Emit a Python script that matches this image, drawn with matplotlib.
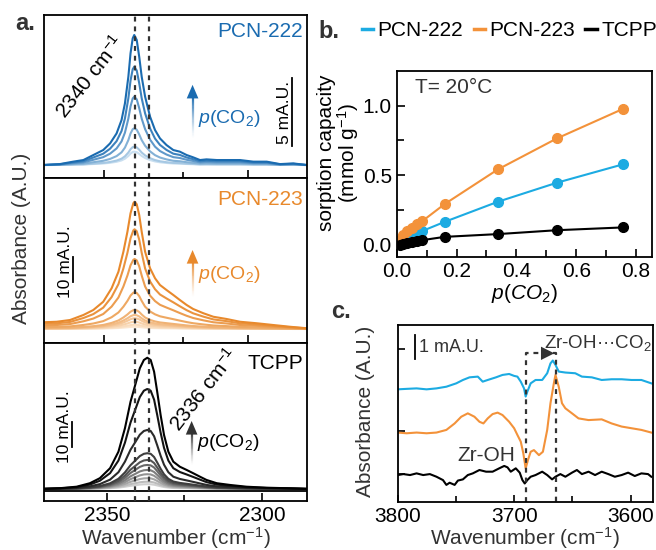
import numpy as np
import matplotlib
matplotlib.use('Agg')
import matplotlib.pyplot as plt
import matplotlib.colors as mcolors
from matplotlib.collections import LineCollection
from matplotlib.lines import Line2D

plt.rcParams['font.family'] = ['Liberation Sans', 'DejaVu Sans']
plt.rcParams['mathtext.fontset'] = 'custom'
plt.rcParams['mathtext.rm'] = 'Liberation Sans'
plt.rcParams['mathtext.it'] = 'Liberation Sans:italic'
plt.rcParams['mathtext.bf'] = 'Liberation Sans:bold'
plt.rcParams['axes.linewidth'] = 1.3

# ---------------- panel a: CO2 band, top spectrum of each sample (mA.U.)
wn_222 = [2370.5, 2365.2, 2360.9, 2357.6, 2354.4, 2351.2, 2349.0, 2346.9, 2345.3, 2344.2,
          2343.1, 2342.4, 2341.7, 2341.2, 2340.4, 2339.6, 2338.8, 2337.7, 2336.1, 2334.5,
          2332.9, 2330.8, 2328.6, 2326.5, 2324.3, 2322.2, 2320.0, 2317.9, 2314.6, 2311.4,
          2307.1, 2302.8, 2298.5, 2294.2, 2289.9, 2285.6]
abs_222 = [0.96, 1.03, 1.21, 1.33, 1.70, 2.07, 2.56, 3.30, 4.29, 5.53,
           7.50, 9.23, 10.34, 10.59, 10.22, 8.98, 7.50, 6.02, 4.54, 3.55,
           2.93, 2.44, 2.07, 1.95, 1.70, 1.53, 1.33, 1.38, 1.33, 1.33,
           1.33, 1.21, 1.21, 1.03, 1.08, 0.96]
base_222 = 0.96
peaks_222 = [10.59, 8.24, 6.02, 3.68, 2.32, 1.95]

wn_223 = [2370.5, 2366.2, 2361.9, 2357.6, 2354.4, 2351.2, 2348.5, 2346.3, 2344.7, 2343.4,
          2342.4, 2341.5, 2341.1, 2340.4, 2339.6, 2338.8, 2337.7, 2336.1, 2334.5, 2332.9,
          2330.8, 2328.6, 2326.5, 2324.3, 2322.2, 2318.9, 2315.7, 2311.4, 2307.1, 2301.7,
          2296.4, 2291.0, 2285.6]
abs_223 = [8.3, 8.5, 9.2, 11.2, 13.2, 16.5, 21.9, 28.5, 36.5, 44.5,
           51.9, 55.9, 56.5, 55.5, 51.2, 44.5, 36.5, 29.9, 25.9, 23.2,
           21.2, 19.2, 17.2, 15.2, 13.6, 11.9, 10.5, 9.6, 8.5, 7.9,
           7.2, 6.5, 5.9]
base_223 = 5.6
peaks_223 = [56.5, 45.5, 33.6, 20.3, 13.2, 11.2, 9.9, 8.5, 7.3, 6.5]

wn_tcpp = [2370.5, 2365.2, 2359.8, 2355.5, 2352.3, 2349.0, 2346.3, 2344.2, 2342.4, 2340.6,
           2339.4, 2338.1, 2337.0, 2335.9, 2334.8, 2333.8, 2332.7, 2331.6, 2330.2, 2328.6,
           2326.5, 2324.3, 2322.2, 2320.0, 2317.9, 2314.6, 2310.3, 2305.0, 2298.5, 2292.1,
           2285.6]
abs_tcpp = [4.7, 5.0, 5.6, 7.0, 9.0, 13.0, 19.6, 29.0, 39.6, 47.6,
            53.0, 56.3, 57.2, 56.3, 51.6, 43.6, 34.3, 26.3, 19.6, 15.6,
            13.6, 12.3, 11.0, 9.6, 8.3, 7.0, 6.3, 5.6, 5.2, 5.0,
            4.7]
base_tcpp = 4.7
peaks_tcpp = [57.2, 44.7, 28.3, 19.0, 16.3, 14.3, 12.3, 10.6, 9.0, 7.6, 6.6]

# ---------------- panel b: isotherms
p_co2 = [0.011, 0.022, 0.033, 0.050, 0.067, 0.084, 0.160, 0.338, 0.535, 0.755]
q_222 = [0.008, 0.020, 0.035, 0.050, 0.070, 0.096, 0.163, 0.308, 0.445, 0.577]
q_223 = [0.036, 0.072, 0.099, 0.120, 0.147, 0.166, 0.291, 0.541, 0.764, 0.976]
q_tcpp = [0.000, 0.005, 0.010, 0.015, 0.022, 0.031, 0.055, 0.075, 0.103, 0.123]

# ---------------- panel c: OH region difference spectra (mA.U., offset)
wn_c_222 = [3800.0, 3792.3, 3783.8, 3775.2, 3766.7, 3758.2, 3749.7, 3744.0, 3738.3, 3731.2,
            3727.0, 3722.7, 3715.6, 3710.0, 3704.3, 3700.0, 3697.2, 3694.3, 3691.5, 3690.1,
            3688.7, 3685.8, 3681.6, 3675.9, 3671.6, 3668.8, 3666.8, 3664.5, 3661.7, 3656.0,
            3647.5, 3641.8, 3633.3, 3624.8, 3616.3, 3607.7, 3599.2, 3590.7, 3582.2]
c_222 = [4.68, 4.70, 4.72, 4.68, 4.72, 4.79, 4.93, 5.07, 5.18, 5.21,
         5.00, 5.07, 5.18, 5.28, 5.32, 5.24, 5.21, 5.00, 4.72, 4.38,
         4.58, 4.93, 5.07, 5.07, 5.35, 5.76, 5.88, 5.70, 5.42, 5.38,
         5.35, 5.21, 5.18, 5.07, 5.10, 5.10, 5.07, 5.07, 4.93]
wn_c_223 = [3800.0, 3792.3, 3783.8, 3775.2, 3766.7, 3758.2, 3751.1, 3745.4, 3739.8, 3734.1,
            3729.8, 3726.4, 3722.7, 3718.5, 3714.2, 3710.0, 3704.3, 3700.0, 3697.2, 3694.3,
            3692.1, 3690.1, 3688.1, 3685.8, 3683.0, 3678.7, 3675.3, 3671.6, 3668.8, 3665.9,
            3664.5, 3661.7, 3658.9, 3656.0, 3650.3, 3644.7, 3636.1, 3624.8, 3616.3, 3607.7,
            3599.2, 3590.7, 3582.2]
c_223 = [2.88, 2.85, 2.88, 2.85, 2.88, 2.99, 3.26, 3.54, 3.68, 3.54,
         3.33, 3.26, 3.47, 3.65, 3.71, 3.61, 3.33, 3.06, 2.78, 2.50,
         2.01, 1.39, 1.74, 2.08, 2.15, 1.94, 2.08, 2.99, 4.10, 4.93,
         5.28, 4.79, 4.10, 3.89, 3.68, 3.47, 3.40, 3.43, 3.26, 3.13,
         3.06, 2.99, 2.88]
wn_c_tcpp = [3800.0, 3795.1, 3789.4, 3783.8, 3778.1, 3772.4, 3766.7, 3761.1, 3758.2, 3755.4,
             3751.1, 3748.3, 3744.0, 3739.8, 3735.5, 3729.8, 3724.1, 3718.5, 3712.8, 3708.5,
             3705.7, 3702.9, 3698.6, 3695.2, 3692.9, 3690.9, 3688.7, 3685.8, 3681.6, 3675.9,
             3671.6, 3667.4, 3664.5, 3660.3, 3656.0, 3650.3, 3646.1, 3641.8, 3636.1, 3630.5,
             3624.8, 3619.1, 3613.5, 3607.7, 3602.1, 3596.4, 3590.7, 3585.0, 3582.2]
c_tcpp = [1.11, 1.15, 1.11, 1.18, 1.11, 1.15, 1.04, 0.90, 0.70, 0.79,
          0.70, 0.88, 0.93, 1.11, 1.18, 1.32, 1.25, 1.25, 1.39, 1.49,
          1.43, 1.25, 1.39, 1.21, 0.90, 0.76, 0.90, 1.04, 1.11, 1.25,
          1.11, 0.93, 1.04, 1.15, 1.04, 1.21, 1.32, 1.15, 1.25, 1.11,
          1.25, 1.15, 1.04, 1.11, 1.21, 1.07, 1.18, 1.15, 1.04]

BLUE_A, ORANGE_A = '#1a6bb0', '#e8892c'
BLUE_B, ORANGE_B = '#1cabe2', '#f3923a'
TXT = '#333333'
DASH = (0, (2.2, 2.2))

W, H = 656, 550
fig = plt.figure(figsize=(W / 100, H / 100), dpi=100)

def box(x0, x1, y0, y1):
    return [x0 / W, 1 - y1 / H, (x1 - x0) / W, (y1 - y0) / H]

def grad_arrow(ax, x, y0, y1, color, head):
    n = 40
    ys = np.linspace(y0, y1 - head, n + 1)
    segs = [[(x, ys[i]), (x, ys[i + 1])] for i in range(n)]
    cols = [mcolors.to_rgba(color, a) for a in np.linspace(0.0, 1.0, n) ** 1.3]
    ax.add_collection(LineCollection(segs, colors=cols, lw=1.6))
    ax.annotate('', xy=(x, y1), xytext=(x, y1 - head),
                arrowprops=dict(arrowstyle='-|>,head_length=0.7,head_width=0.3', color=color,
                                lw=0, mutation_scale=14, shrinkA=0, shrinkB=0))

def spectra(ax, wn, top, base, peaks, dark, light):
    top = np.array(top)
    cmap = mcolors.LinearSegmentedColormap.from_list('g', [light, dark])
    n = len(peaks)
    for i in range(n - 1, -1, -1):
        frac = (peaks[i] - base) / (peaks[0] - base)
        ax.plot(wn, base + frac * (top - base), color=cmap(1 - i / (n - 1)), lw=1.5)

# ---------------- panel a
ax1 = fig.add_axes(box(44, 307, 15, 178))
ax2 = fig.add_axes(box(44, 307, 178, 343))
ax3 = fig.add_axes(box(44, 307, 343, 500.7))

spectra(ax1, wn_222, abs_222, base_222, peaks_222, BLUE_A, '#c9dff0')
spectra(ax2, wn_223, abs_223, base_223, peaks_223, ORANGE_A, '#fbe6cf')
spectra(ax3, wn_tcpp, abs_tcpp, base_tcpp, peaks_tcpp, '#000000', '#d0d0d0')

ax1.set_ylim(0, 12.07)
ax2.set_ylim(0, 66)
ax3.set_ylim(0, 63.1)
for ax in (ax1, ax2, ax3):
    ax.set_xlim(2370.3, 2285.5)
    ax.axvline(2340.9, color=TXT, lw=1.6, ls=DASH, zorder=5)
    ax.axvline(2336.3, color=TXT, lw=1.6, ls=DASH, zorder=5)
    ax.tick_params(left=False, labelleft=False, direction='in', width=1.2)
    ax.tick_params(which='major', length=6)
    ax.tick_params(which='minor', length=4, width=1.2, direction='in')
for ax in (ax1, ax2):
    ax.set_xticks([2351, 2304.5])
    ax.set_xticks([2325.5], minor=True)
    ax.tick_params(labelbottom=False)
ax3.set_xticks([2350, 2300])
ax3.set_xticks([2325], minor=True)
ax3.set_xticklabels(['2350', '2300'], fontsize=15)
ax3.tick_params(pad=4)
ax3.axhline(3.9, color='k', lw=1.3)
ax3.set_xlabel('Wavenumber (cm$^{-1}$)', fontsize=15, color=TXT, labelpad=0)

ax1.text(0.985, 0.955, 'PCN-222', color=BLUE_A, fontsize=15, ha='right', va='top',
         transform=ax1.transAxes)
ax2.text(0.985, 0.93, 'PCN-223', color=ORANGE_A, fontsize=15, ha='right', va='top',
         transform=ax2.transAxes)
ax3.text(0.985, 0.93, 'TCPP', color='k', fontsize=15, ha='right', va='top',
         transform=ax3.transAxes)
ax1.text(2355.6, 7.5, '2340 cm$^{-1}$', rotation=52, fontsize=15, ha='center', va='center')
ax3.text(2318.6, 44.5, '2336 cm$^{-1}$', rotation=52, fontsize=15, ha='center', va='center')

# scale bars
ax1.plot([2290.4, 2290.4], [2.37, 7.37], color='k', lw=1.3)
ax1.text(2292.6, 4.87, '5 mA.U.', rotation=90, fontsize=12.5, ha='center', va='center')
ax2.plot([2360.9, 2360.9], [24.5, 34.5], color='k', lw=1.3)
ax2.text(2363.4, 32.5, '10 mA.U.', rotation=90, fontsize=12.5, ha='center', va='center')
ax3.plot([2361.2, 2361.2], [21.6, 31.6], color='k', lw=1.3)
ax3.text(2363.7, 29.5, '10 mA.U.', rotation=90, fontsize=12.5, ha='center', va='center')

# p(CO2) arrows
grad_arrow(ax1, 2322.4, 2.9, 6.9, BLUE_A, 0.8)
ax1.text(2320.8, 4.4, '$p$(CO$_2$)', color=BLUE_A, fontsize=14, va='center')
grad_arrow(ax2, 2322.4, 18.0, 37.2, ORANGE_A, 4.2)
ax2.text(2320.8, 27.5, '$p$(CO$_2$)', color=ORANGE_A, fontsize=14, va='center')
grad_arrow(ax3, 2322.7, 14.0, 31.9, '#333333', 4.2)
ax3.text(2321.0, 23.3, '$p$(CO$_2$)', color='k', fontsize=14, va='center')

fig.text(22 / W, 1 - 238 / H, 'Absorbance (A.U.)', rotation=90, fontsize=15,
         color=TXT, ha='center', va='center')

# ---------------- panel b
axb = fig.add_axes(box(396.7, 652, 71, 257))
axb.plot(p_co2, q_222, '-o', color=BLUE_B, ms=7, lw=1.5)
axb.plot(p_co2, q_223, '-o', color=ORANGE_B, ms=7, lw=1.5)
axb.plot(p_co2, q_tcpp, '-o', color='k', ms=7, lw=1.5)
axb.set_xlim(0, 0.853)
axb.set_ylim(-0.09, 1.25)
axb.set_xticks([0.0, 0.2, 0.4, 0.6, 0.8])
axb.set_xticks([0.1, 0.3, 0.5, 0.7], minor=True)
axb.set_yticks([0.0, 0.5, 1.0])
axb.set_yticks([0.25, 0.75], minor=True)
axb.tick_params(which='both', direction='in', labelsize=15, width=1.2)
axb.tick_params(which='major', length=6)
axb.tick_params(which='minor', length=5)
axb.set_xticklabels(['0.0', '0.2', '0.4', '0.6', '0.8'])
axb.set_yticklabels(['0.0', '0.5', '1.0'])
axb.text(0.07, 0.96, 'T= 20°C', fontsize=15, color=TXT, va='top', transform=axb.transAxes)
axb.set_xlabel('$p(CO_2)$', fontsize=15, labelpad=1)
axb.set_ylabel('sorption capacity\n(mmol g$^{-1}$)', fontsize=15, linespacing=0.95)
axb.yaxis.set_label_coords(-0.14, 0.56)

handles = [Line2D([], [], color=BLUE_B, lw=2.5), Line2D([], [], color=ORANGE_B, lw=2.5),
           Line2D([], [], color='k', lw=2.5)]
fig.legend(handles, ['PCN-222', 'PCN-223', 'TCPP'], loc='center left',
           bbox_to_anchor=(362 / W, 1 - 31 / H), ncol=3, frameon=False, fontsize=15,
           handlelength=0.55, handletextpad=0.2, columnspacing=0.5, borderpad=0,
           borderaxespad=0)

# ---------------- panel c
axc = fig.add_axes(box(397.7, 652.7, 325, 501.7))
axc.plot(wn_c_222, c_222, color=BLUE_B, lw=1.5)
axc.plot(wn_c_223, c_223, color=ORANGE_B, lw=1.5)
axc.plot(wn_c_tcpp, c_tcpp, color='k', lw=1.5)
axc.set_xlim(3800, 3581)
axc.set_ylim(0, 7.36)
axc.set_xticks([3800, 3700, 3600])
axc.set_xticks([3750, 3650], minor=True)
axc.set_yticks([1.15, 2.95, 6.36])
axc.tick_params(which='both', direction='in', labelsize=15, width=1.2, labelleft=False)
axc.tick_params(which='major', length=5)
axc.tick_params(which='minor', length=4)
axc.set_xlabel('Wavenumber (cm$^{-1}$)', fontsize=15, color=TXT, labelpad=0)
axc.set_ylabel('Absorbance (A.U.)', fontsize=15, color=TXT)
axc.yaxis.set_label_coords(-0.089, 0.513)

axc.plot([3690, 3690, 3664, 3664], [0, 6.18, 6.18, 0], color=TXT, lw=1.6, ls=DASH)
axc.annotate('', xy=(3665.5, 6.18), xytext=(3671, 6.18),
             arrowprops=dict(arrowstyle='-|>,head_length=0.6,head_width=0.3', color=TXT,
                             lw=0, mutation_scale=16, shrinkA=0, shrinkB=0))
axc.plot([3785.2, 3785.2], [5.93, 6.93], color='k', lw=1.3)
axc.text(3781.5, 6.42, '1 mA.U.', fontsize=13, color=TXT, va='center')
axc.text(3582, 6.62, 'Zr-OH\u00b7\u00b7\u00b7CO$_2$', fontsize=13.5, color=TXT,
         ha='right', va='center')
axc.text(3724, 1.92, 'Zr-OH', fontsize=15, color=TXT, ha='center', va='center')

# panel letters
fig.text(15 / W, 1 - 30 / H, 'a.', fontsize=17, fontweight='bold', color=TXT)
fig.text(318 / W, 1 - 38 / H, 'b.', fontsize=17, fontweight='bold', color=TXT)
fig.text(331 / W, 1 - 318 / H, 'c.', fontsize=17, fontweight='bold', color=TXT)

fig.savefig('out.png', dpi=100)
